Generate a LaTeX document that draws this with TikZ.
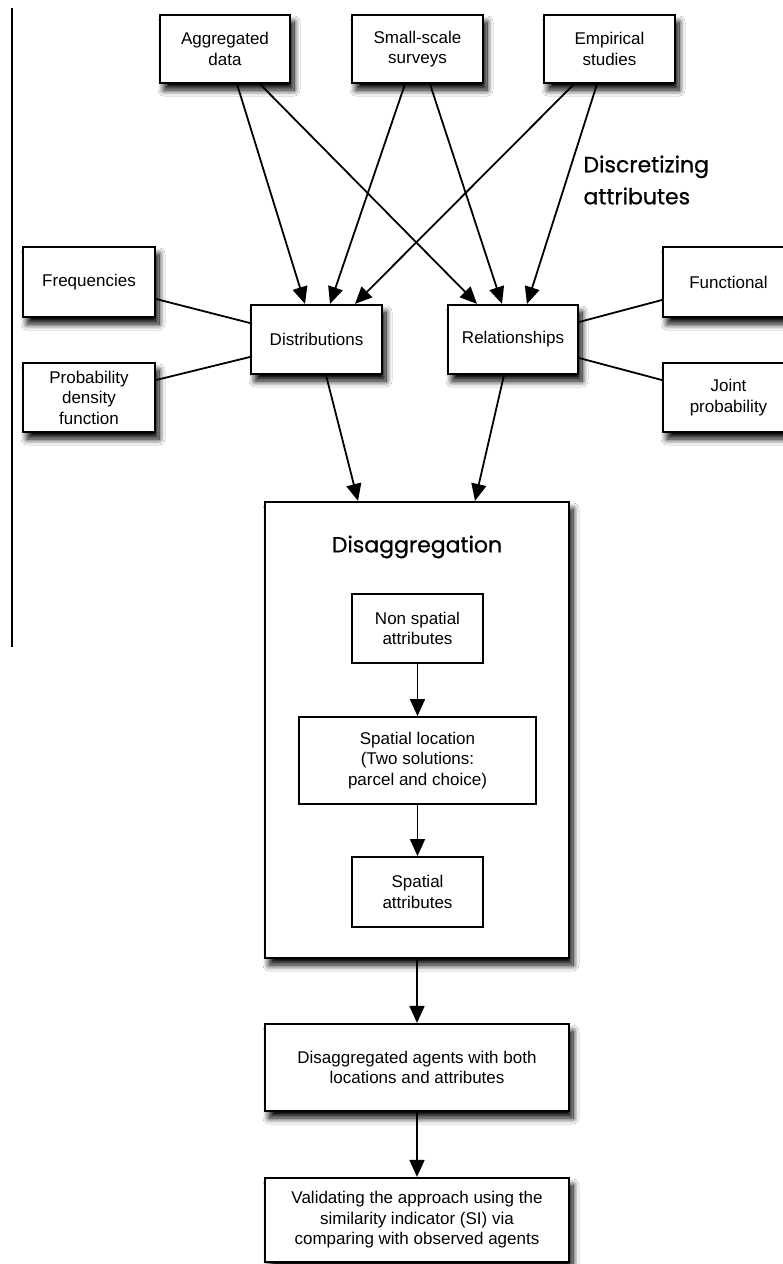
\documentclass[tikz,border=0pt]{standalone}
\usepackage{fontspec}
\setmainfont{Liberation Sans}
\newfontfamily\geofont[FakeBold=0.7]{Poppins}
\usetikzlibrary{arrows.meta,shadows.blur}
\tikzset{
  shad/.style={blur shadow={shadow xshift=4pt,shadow yshift=-7pt,shadow blur radius=6pt,shadow blur steps=14,shadow opacity=100}},
  box/.style={draw, line width=2.2pt, fill=white, align=center, inner sep=0pt,
    font=\fontsize{17}{20.5}\selectfont, shad},
  ibox/.style={draw, line width=1.8pt, fill=white, align=center, inner sep=0pt,
    font=\fontsize{17}{20.5}\selectfont},
  arr/.style={line width=1.8pt, -{Triangle[length=17pt,width=15pt]}},
  ln/.style={line width=1.8pt},
  big/.style={font=\geofont\fontsize{22}{32}\selectfont}
}
\begin{document}
\begin{tikzpicture}[x=1pt,y=-1pt]
\clip (0,0) rectangle (783,1264);
\fill[white] (0,0) rectangle (783,1264);
% left rule
\coordinate (r1) at (12,8);
\coordinate (r2) at (12,647);
\draw[line width=1.3pt] (r1) -- (r2);
% top sources
\node[box, minimum width=130, minimum height=68] (agg) at (225,49) {Aggregated\\data};
\node[box, minimum width=131, minimum height=68] (small) at (417.5,49) {Small-scale\\surveys};
\node[box, minimum width=131, minimum height=68] (emp) at (609.5,49) {Empirical\\studies};
\node[big, align=left, anchor=west] (disc) at (580,180) {Discretizing\\attributes};
% side boxes
\node[box, minimum width=132, minimum height=70] (freq) at (89,282) {Frequencies};
\node[box, minimum width=132, minimum height=69] (pdf) at (89,397.5) {Probability\\density\\function};
\node[box, minimum width=131, minimum height=69] (dist) at (316.5,339.5) {Distributions};
\node[box, minimum width=130, minimum height=69] (rel) at (513,339.5) {Relationships};
\node[box, minimum width=131, minimum height=70] (func) at (728.5,282) {Functional};
\node[box, minimum width=131, minimum height=69] (joint) at (728.5,397.5) {Joint\\probability};
% disaggregation
\node[box, minimum width=304, minimum height=456] (dis) at (417,730) {};
\node[big] (distitle) at (417,547) {Disaggregation};
\node[ibox, minimum width=131, minimum height=69] (nonsp) at (417.5,628.5) {Non spatial\\attributes};
\node[ibox, minimum width=237, minimum height=87] (sploc) at (417.5,760.5) {Spatial location\\(Two solutions:\\parcel and choice)};
\node[ibox, minimum width=131, minimum height=70] (spattr) at (417.5,892) {Spatial\\attributes};
% bottom
\node[box, minimum width=304, minimum height=87] (agents) at (417,1067.5) {Disaggregated agents with both\\locations and attributes};
\node[box, minimum width=304, minimum height=84] (valid) at (417,1220) {Validating the approach using the\\similarity indicator (SI) via\\comparing with observed agents};
% arrows top
\draw[arr] ([xshift=12pt]agg.south) -- ([xshift=-11.5pt]dist.north);
\draw[arr] ([xshift=35pt]agg.south) -- ([xshift=-36pt]rel.north);
\draw[arr] ([xshift=-12.5pt]small.south) -- ([xshift=13.5pt]dist.north);
\draw[arr] ([xshift=12.5pt]small.south) -- ([xshift=-11pt]rel.north);
\draw[arr] ([xshift=-35.5pt]emp.south) -- ([xshift=38.5pt]dist.north);
\draw[arr] ([xshift=-12.5pt]emp.south) -- ([xshift=14pt]rel.north);
% side lines
\draw[ln] ([yshift=-17pt]freq.east) -- ([yshift=16.5pt]dist.west);
\draw[ln] ([yshift=17.5pt]pdf.east) -- ([yshift=-17.5pt]dist.west);
\draw[ln] ([yshift=17.5pt]rel.east) -- ([yshift=-18pt]func.west);
\draw[ln] ([yshift=-18.5pt]rel.east) -- ([yshift=17.5pt]joint.west);
% into disaggregation
\draw[arr] ([xshift=9.5pt]dist.south) -- ([xshift=-59pt]dis.north);
\draw[arr] ([xshift=-9pt]rel.south) -- ([xshift=58pt]dis.north);
% inner chain
\draw[arr] (nonsp.south) -- (sploc.north);
\draw[arr] (sploc.south) -- (spattr.north);
\draw[arr] (dis.south) -- (agents.north);
\draw[arr] (agents.south) -- (valid.north);
\end{tikzpicture}
\end{document}
